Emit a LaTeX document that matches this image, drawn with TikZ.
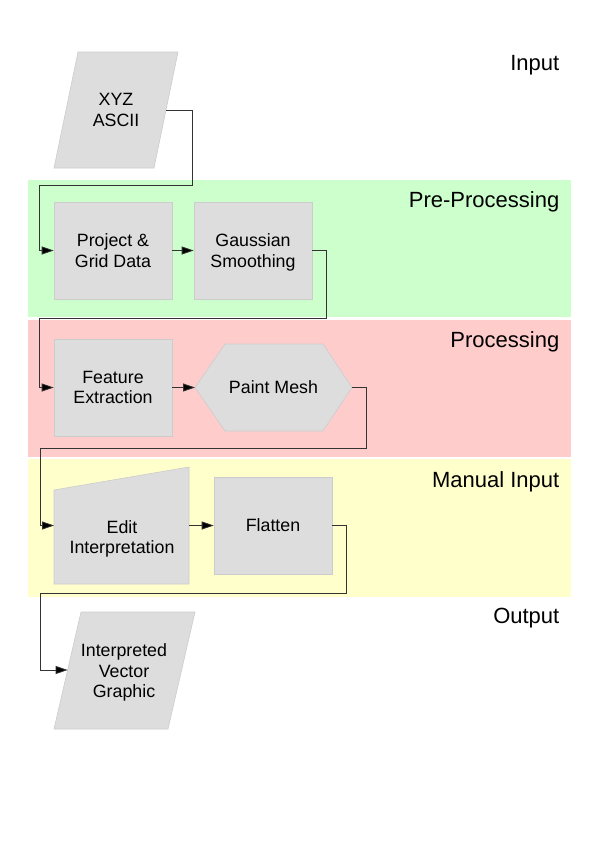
\documentclass[tikz,border=0pt]{standalone}
\usepackage{fontspec}
\setmainfont{Liberation Sans}
\usetikzlibrary{arrows.meta}
\definecolor{bandgreen}{HTML}{CCFFCC}
\definecolor{bandred}{HTML}{FFCCCC}
\definecolor{bandyellow}{HTML}{FFFFCC}
\definecolor{boxfill}{HTML}{DDDDDD}
\definecolor{boxline}{HTML}{CCCCCC}
\definecolor{connline}{HTML}{333333}
\tikzset{
  procbox/.style={rectangle, fill=boxfill, draw=boxline, line width=0.6pt,
    minimum width=118pt, minimum height=97pt, inner sep=0pt, align=center,
    font=\fontsize{17.8}{20.5}\selectfont},
  shapefill/.style={fill=boxfill, draw=boxline, line width=0.6pt},
  boxtext/.style={inner sep=0pt, align=center, font=\fontsize{17.8}{20.5}\selectfont},
  bandlabel/.style={anchor=base east, inner sep=0pt, font=\fontsize{22}{26}\selectfont},
  conn/.style={draw=connline, line width=0.8pt, -{Triangle[length=12pt,width=8pt,fill=black]}},
}
\begin{document}
\begin{tikzpicture}[x=1pt,y=-1pt]
\useasboundingbox (0,0) rectangle (600,849);
% bands
\fill[bandgreen] (28,180) rectangle (571,317);
\fill[bandred] (28,320) rectangle (571,457);
\fill[bandyellow] (28,459) rectangle (571,597);
% band labels
\node[bandlabel] (lInput) at (559.5,70) {Input};
\node[bandlabel] (lPre) at (559.5,207) {Pre-Processing};
\node[bandlabel] (lProc) at (559.5,347) {Processing};
\node[bandlabel] (lMan) at (559.5,487) {Manual Input};
\node[bandlabel] (lOut) at (559.5,623) {Output};
% XYZ ASCII parallelogram
\draw[shapefill] (78,52) -- (178,52) -- (154,168) -- (54,168) -- cycle;
\node[boxtext] (xyz) at (116,110) {XYZ\\ASCII};
\coordinate (xyzout) at (166,110);
% rectangles
\node[procbox] (proj) at (113,250.5) {Project \&\\Grid Data};
\node[procbox, text depth=0pt] (gauss) at (253,250.5) {Gaussian\\Smoothing};
\node[procbox] (feat) at (113,387.5) {Feature\\Extraction};
% paint mesh hexagon
\draw[shapefill] (195,387.5) -- (225,344) -- (323,344) -- (352,387.5) -- (323,431) -- (225,431) -- cycle;
\node[boxtext] (paint) at (273.5,387.5) {Paint Mesh};
\coordinate (paintin) at (195,387.5);
\coordinate (paintout) at (352,387.5);
% edit interpretation (manual input)
\draw[shapefill] (54,490) -- (189,467) -- (189,584) -- (54,584) -- cycle;
\node[boxtext] (edit) at (122,539) {Edit\\Interpretation};
\coordinate (editout) at (189,525.5);
\node[procbox] (flat) at (273,525.5) {Flatten};
% output parallelogram
\draw[shapefill] (81,612) -- (195,612) -- (168,729) -- (54,729) -- cycle;
\node[boxtext] (out) at (124,672.5) {Interpreted\\Vector\\Graphic};
\coordinate (outin) at (67.6,670);
% connectors
\draw[conn] (xyzout) -| (192,185) -| ([xshift=-14pt]proj.west) -- (proj.west);
\draw[conn] (proj.east) -- (gauss.west);
\draw[conn] (gauss.east) -| (326,318.5) -| ([xshift=-14pt]feat.west) -- (feat.west);
\draw[conn] (feat.east) -- (paintin);
\draw[conn] (paintout) -| (366,448) -| ([xshift=-14pt]54,525.5) -- (54,525.5);
\draw[conn] (editout) -- (flat.west);
\draw[conn] (flat.east) -| (346,593) -| ([xshift=-27.6pt]outin) -- (outin);
\end{tikzpicture}
\end{document}
